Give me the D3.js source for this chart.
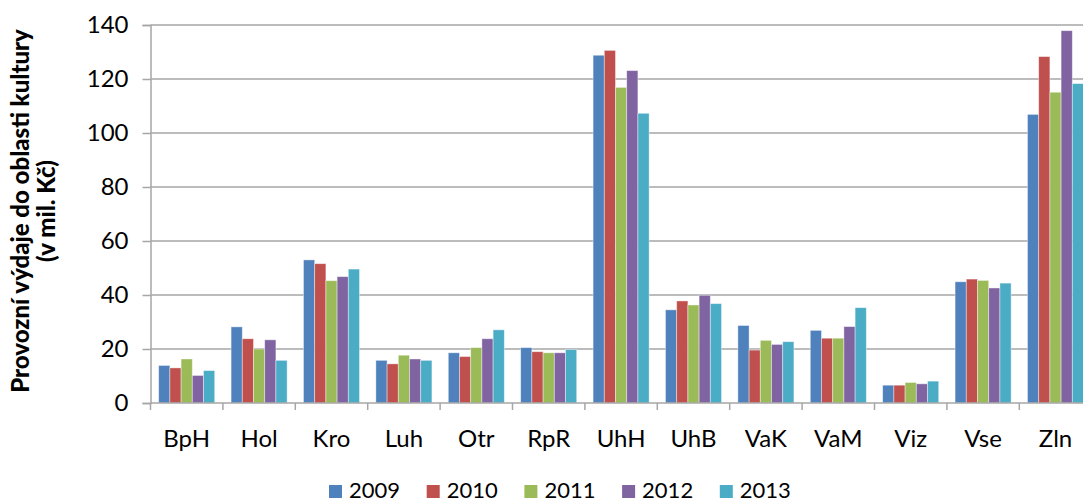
<!DOCTYPE html>
<html>
<head>
<meta charset="utf-8">
<script src="https://cdn.jsdelivr.net/npm/d3@7"></script>
<style>
	body { margin: 0; background: #fff; }
	text { font-family: Lato, "Liberation Sans", sans-serif; fill: #000; }
</style>
</head>
<body>
<div id="chart"></div>
<script>
const categories = ['BpH', 'Hol', 'Kro', 'Luh', 'Otr', 'RpR', 'UhH', 'UhB', 'VaK', 'VaM', 'Viz', 'Vse', 'Zln'];
const years = ['2009', '2010', '2011', '2012', '2013'];
const v2009 = [13.9, 28.2, 53.0, 15.8, 18.6, 20.5, 128.8, 34.5, 28.7, 26.9, 6.6, 44.9, 106.9];
const v2010 = [13.0, 23.8, 51.6, 14.5, 17.2, 19.0, 130.6, 37.8, 19.6, 24.0, 6.6, 45.9, 128.3];
const v2011 = [16.3, 20.0, 45.3, 17.7, 20.5, 18.6, 116.9, 36.3, 23.2, 24.0, 7.6, 45.4, 115.1];
const v2012 = [10.2, 23.4, 46.8, 16.3, 23.8, 18.6, 123.1, 39.9, 21.7, 28.3, 7.1, 42.6, 137.9];
const v2013 = [12.0, 15.8, 49.6, 15.8, 27.1, 19.8, 107.3, 36.8, 22.7, 35.3, 8.1, 44.4, 118.3];
const yTicks = [0, 20, 40, 60, 80, 100, 120, 140];
const colors = ['#4f81bd', '#c0504d', '#9bbb59', '#8064a2', '#4bacc6'];

const series = [v2009, v2010, v2011, v2012, v2013];
const width = 1083, height = 502;
const plotLeft = 150.5, plotTop = 25, plotBottom = 403;
const step = 72.4;

var svg = d3.select('#chart')
	.append('svg')
	.attr('width', width)
	.attr('height', height);

var yScale = d3.scaleLinear()
	.domain([0, 140])
	.range([plotBottom, plotTop]);

var xScale = d3.scaleBand()
	.domain(categories)
	.range([plotLeft, plotLeft + step * categories.length])
	.padding(0);

var xInner = d3.scaleBand()
	.domain(years)
	.range([0, xScale.bandwidth()])
	.paddingInner(0)
	.paddingOuter(0.73);

// gridlines + y axis
svg.append('g')
	.attr('transform', `translate(${plotLeft},0)`)
	.call(d3.axisLeft(yScale).tickValues(yTicks).tickSize(8).tickPadding(14))
	.call(g => g.select('.domain').attr('stroke', '#a6a6a6').attr('stroke-width', 1.5))
	.call(g => g.selectAll('.tick line').attr('stroke', '#a6a6a6').attr('stroke-width', 1.5))
	.call(g => g.selectAll('.tick text').attr('font-size', 24).style('font-family', 'Lato'));

svg.append('g')
	.selectAll('line')
	.data(yTicks.filter(d => d > 0))
	.enter()
	.append('line')
	.attr('x1', plotLeft)
	.attr('x2', width)
	.attr('y1', d => yScale(d))
	.attr('y2', d => yScale(d))
	.attr('stroke', '#a6a6a6')
	.attr('stroke-width', 1.5);

// bars
var groups = svg.append('g')
	.selectAll('g')
	.data(categories)
	.enter()
	.append('g')
	.attr('transform', d => `translate(${xScale(d)},0)`);

groups.selectAll('rect')
	.data((d, i) => years.map((y, j) => ({ year: y, value: series[j][i], color: colors[j] })))
	.enter()
	.append('rect')
	.attr('x', d => xInner(d.year))
	.attr('width', xInner.bandwidth())
	.attr('y', d => yScale(d.value))
	.attr('height', d => plotBottom - yScale(d.value))
	.attr('fill', d => d.color)
	.attr('stroke', 'rgba(255,255,255,0.5)')
	.attr('stroke-width', 0.8);

// x axis
svg.append('line')
	.attr('x1', plotLeft)
	.attr('x2', width)
	.attr('y1', plotBottom)
	.attr('y2', plotBottom)
	.attr('stroke', '#a6a6a6')
	.attr('stroke-width', 1.5);

svg.append('g')
	.selectAll('line')
	.data(categories)
	.enter()
	.append('line')
	.attr('x1', d => xScale(d))
	.attr('x2', d => xScale(d))
	.attr('y1', plotBottom)
	.attr('y2', plotBottom + 7)
	.attr('stroke', '#a6a6a6')
	.attr('stroke-width', 1.5);

svg.append('g')
	.selectAll('text')
	.data(categories)
	.enter()
	.append('text')
	.attr('x', d => xScale(d) + xScale.bandwidth() / 2)
	.attr('y', 447)
	.attr('text-anchor', 'middle')
	.attr('font-size', 24)
	.text(d => d);

// y axis title
var title = svg.append('text')
	.attr('transform', 'translate(0,211) rotate(-90)')
	.attr('text-anchor', 'middle')
	.attr('font-weight', 900)
	.attr('font-size', 24);
title.append('tspan').attr('x', 0).attr('y', 29).text('Provozní výdaje do oblasti kultury');
title.append('tspan').attr('x', 0).attr('y', 55).text('(v mil. Kč)');

// legend
var legend = svg.append('g')
	.selectAll('g')
	.data(years)
	.enter()
	.append('g')
	.attr('transform', (d, i) => `translate(${329 + i * 97.7},0)`);

legend.append('rect')
	.attr('y', 485)
	.attr('width', 13)
	.attr('height', 13)
	.attr('fill', (d, i) => colors[i]);

legend.append('text')
	.attr('x', 20)
	.attr('y', 498)
	.attr('font-size', 22)
	.text(d => d);
</script>
</body>
</html>
